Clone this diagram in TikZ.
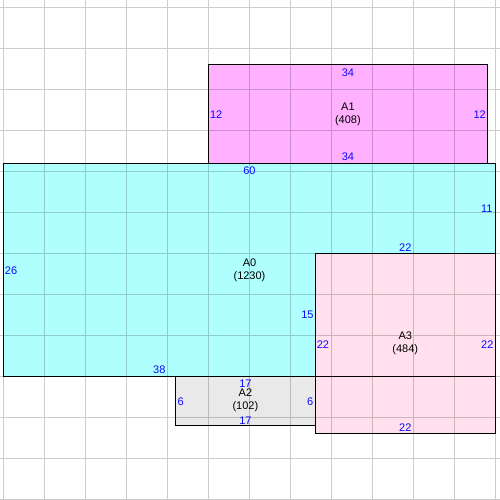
\documentclass[tikz,border=0pt]{standalone}
\usepackage{fontspec}
\setmainfont{Liberation Sans}
\definecolor{lblblue}{RGB}{10,10,255}
\definecolor{aZero}{RGB}{176,255,255}
\definecolor{aOne}{RGB}{255,176,255}
\definecolor{aTwo}{RGB}{233,233,233}
\definecolor{aThree}{RGB}{255,224,236}
\begin{document}
\begin{tikzpicture}[x=8.2pt,y=-8.2pt,
  roomline/.style={draw=black,line width=1.1pt},
  edgelbl/.style={text=lblblue,inner sep=0pt,font=\fontsize{11}{13}\selectfont},
  namelbl/.style={align=center,inner sep=0pt,font=\fontsize{11}{13}\selectfont},
  gridln/.style={draw=black,opacity=0.2,line width=1pt}]
\useasboundingbox (-0.4268,-0.9146) rectangle (60.55,60.06);
% fills
\fill[aZero] (0,19) rectangle (60,45);
\fill[aOne] (25,7) rectangle (59,19);
\fill[aTwo] (21,45) rectangle (38,51);
\fill[aThree] (38,30) rectangle (60,52);
% grid
\draw[gridln] foreach \i in {0,5,...,60} {(\i,-0.9146) -- (\i,60.06)}
              foreach \j in {0,5,...,60} {(-0.4268,\j) -- (60.55,\j)};
% borders
\draw[roomline] (0,19) rectangle (60,45);
\draw[roomline] (25,7) rectangle (59,19);
\draw[roomline] (21,45) rectangle (38,51);
\draw[roomline] (38,30) rectangle (60,52);
% A1 labels
\node[namelbl] (n1) at (42,13) {A1\\(408)};
\node[edgelbl] (a1t) at (42,7.9) {34};
\node[edgelbl] (a1b) at (42,18.18) {34};
\node[edgelbl] (a1l) at (25.93,13.1) {12};
\node[edgelbl] (a1r) at (58.07,13.1) {12};
% A0 labels
\node[namelbl] (n0) at (30,32) {A0\\(1230)};
\node[edgelbl] (a0t) at (30,19.9) {60};
\node[edgelbl] (a0l) at (0.92,32.04) {26};
\node[edgelbl] (a0r) at (58.95,24.54) {11};
\node[edgelbl] (a0s) at (49,29.3) {22};
\node[edgelbl] (a0v) at (37.06,37.52) {15};
\node[edgelbl] (a0b) at (19,44.2) {38};
% A2 labels
\node[namelbl] (n2) at (29.5,47.95) {A2\\(102)};
\node[edgelbl] (a2t) at (29.5,45.86) {17};
\node[edgelbl] (a2b) at (29.5,50.41) {17};
\node[edgelbl] (a2l) at (21.6,48.1) {6};
\node[edgelbl] (a2r) at (37.4,48.1) {6};
% A3 labels
\node[namelbl] (n3) at (49,40.96) {A3\\(484)};
\node[edgelbl] (a3l) at (38.96,41.08) {22};
\node[edgelbl] (a3r) at (59,41.08) {22};
\node[edgelbl] (a3b) at (49,51.3) {22};
\end{tikzpicture}
\end{document}
